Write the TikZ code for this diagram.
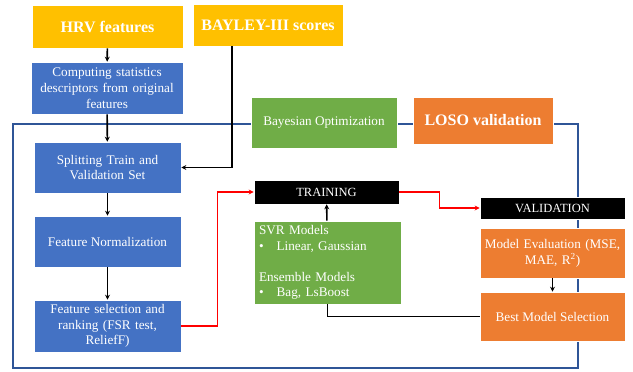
\documentclass[tikz,border=0pt]{standalone}
\usepackage{fontspec}
\setmainfont{Liberation Serif}
\usetikzlibrary{arrows.meta}
\definecolor{cyel}{HTML}{FFC000}
\definecolor{cblue}{HTML}{4472C4}
\definecolor{cgreen}{HTML}{70AD47}
\definecolor{corange}{HTML}{ED7D31}
\definecolor{cframe}{HTML}{2F5597}
\begin{document}
\begin{tikzpicture}[x=1pt,y=-1pt,
  box/.style={draw=white,line width=0.6pt,text=white,align=center,inner sep=2pt,font=\fontsize{13.2}{15.8}\selectfont},
  yel/.style={box,fill=cyel,font=\fontsize{16}{18}\selectfont\bfseries},
  bl/.style={box,fill=cblue},
  gr/.style={box,fill=cgreen},
  og/.style={box,fill=corange},
  bk/.style={box,fill=black,font=\fontsize{12.5}{14}\selectfont},
  arr/.style={-{Stealth[length=5pt,width=5pt]},line width=1.6pt},
  rarr/.style={arr,draw=red},
  frame/.style={draw=cframe,line width=1.6pt}]
\useasboundingbox (0,0) rectangle (633,372);
\draw[frame] (13,124) rectangle (578,368);
\node[yel,minimum width=151pt,minimum height=43pt] (hrv) at (107.5,26.5) {HRV features};
\node[yel,minimum width=150pt,minimum height=42pt] (bay) at (268,25) {BAYLEY-III scores};
\node[bl,minimum width=152pt,minimum height=52pt,text width=148pt] (comp) at (107,88) {Computing statistics\\descriptors from original\\features};
\node[bl,minimum width=147pt,minimum height=51pt,text width=143pt] (split) at (107.5,167.5) {Splitting Train and\\Validation Set};
\node[bl,minimum width=147pt,minimum height=51pt] (norm) at (107.5,241.5) {Feature Normalization};
\node[bl,minimum width=147pt,minimum height=52pt,text width=143pt] (fsel) at (107.5,326) {Feature selection and\\ranking (FSR test,\\ReliefF)};
\node[gr,minimum width=146pt,minimum height=51pt] (bayopt) at (324,122.5) {Bayesian Optimization};
\node[og,minimum width=140pt,minimum height=47pt,font=\fontsize{16}{18}\selectfont\bfseries] (loso) at (483,120.5) {LOSO validation};
\node[bk,minimum width=145pt,minimum height=24pt] (train) at (326.5,192) {TRAINING};
\node[bk,minimum width=145pt,minimum height=22pt] (val) at (552.5,208) {VALIDATION};
\node[og,minimum width=145pt,minimum height=50pt,text width=141pt] (meval) at (552.5,253) {Model Evaluation (MSE,\\MAE, R\textsuperscript{2})};
\node[og,minimum width=145pt,minimum height=49pt] (best) at (552.5,316.5) {Best Model Selection};
\node[gr,minimum width=147pt,minimum height=83pt,text width=137pt,align=left,inner xsep=5pt,inner ysep=3pt] (svr) at (327.5,262.5) {SVR Models\\\textbullet\hspace{13pt}Linear, Gaussian\\[15pt]Ensemble Models\\\textbullet\hspace{13pt}Bag, LsBoost};
\draw[arr] (hrv) -- (comp);
\draw[arr] (comp) -- (split);
\draw[arr] (split) -- (norm);
\draw[arr] (norm) -- (fsel);
\draw[arr] ([xshift=-36pt]bay.south) |- (split.east);
\draw[rarr] (fsel.east) -- ++(36,0) |- (train.west);
\draw[rarr] (train.east) -- ++(40,0) |- (val.west);
\draw[arr] (svr) -- (train);
\draw[arr] (meval) -- (best);
\draw[line width=1.6pt] (best.west) -| (svr.south);
\end{tikzpicture}
\end{document}
